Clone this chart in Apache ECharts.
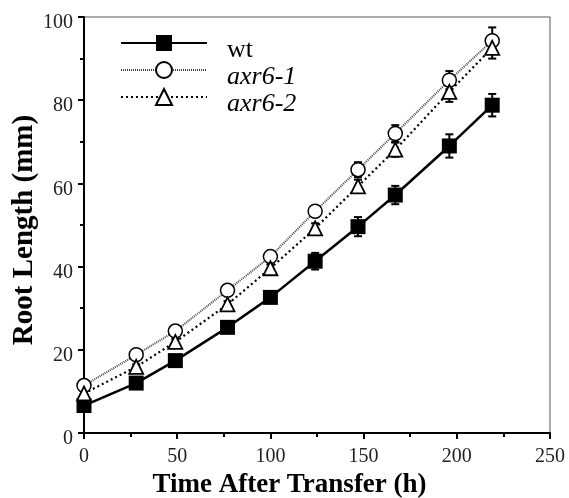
<!DOCTYPE html>
<html>
<head>
<meta charset="utf-8">
<script src="https://cdn.jsdelivr.net/npm/echarts@6/dist/echarts.min.js"></script>
<style>
  html, body { margin: 0; padding: 0; background: #fff; }
  #chart { width: 569px; height: 498px; }
</style>
</head>
<body>
<div id="chart"></div>
<script>
// time after transfer (h)
const times = [0, 28, 49, 77, 100, 124, 147, 167, 196, 219];

// root length (mm) and error (mm)
const wtVals = [6.6, 12.0, 17.4, 25.4, 32.6, 41.3, 49.6, 57.2, 69.0, 78.8];
const wtErr = [0.5, 0.6, 0.7, 0.8, 1.0, 2.0, 2.3, 2.2, 2.8, 2.7];
const axr1Vals = [11.4, 18.8, 24.5, 34.3, 42.4, 53.3, 63.3, 72.0, 84.8, 94.3];
const axr1Err = [0.5, 0.6, 0.7, 0.8, 0.9, 1.0, 1.8, 2.0, 2.2, 3.2];
const axr2Vals = [9.5, 15.9, 21.9, 30.9, 39.6, 49.2, 59.3, 68.1, 82.0, 92.6];
const axr2Err = [0.5, 0.6, 0.7, 0.8, 0.9, 1.2, 1.6, 1.7, 2.4, 2.6];

const SERIF = '"Liberation Serif", "Times New Roman", serif';

function pairs(vals) {
  return times.map((t, i) => [t, vals[i]]);
}
function errData(vals, err) {
  return times.map((t, i) => [t, vals[i] - err[i], vals[i] + err[i]]);
}

// vertical error bar with caps
function renderErr(params, api) {
  const x = api.value(0);
  const top = api.coord([x, api.value(2)]);
  const bot = api.coord([x, api.value(1)]);
  const w = 4;
  const st = { stroke: '#000', lineWidth: 2 };
  return {
    type: 'group',
    children: [
      { type: 'line', shape: { x1: top[0], y1: top[1], x2: bot[0], y2: bot[1] }, style: st },
      { type: 'line', shape: { x1: top[0] - w, y1: top[1], x2: top[0] + w, y2: top[1] }, style: st },
      { type: 'line', shape: { x1: bot[0] - w, y1: bot[1], x2: bot[0] + w, y2: bot[1] }, style: st }
    ]
  };
}

function errSeries(vals, err) {
  return {
    type: 'custom',
    renderItem: renderErr,
    data: errData(vals, err),
    encode: { x: 0, y: [1, 2] },
    z: 1,
    silent: true
  };
}

const chart = echarts.init(document.getElementById('chart'), null, { renderer: 'canvas' });

const option = {
  animation: false,
  backgroundColor: '#fff',
  grid: {
    left: 84,
    right: 19,
    top: 17,
    bottom: 65,
    outerBoundsMode: 'none',
    containLabel: false,
    show: true,
    borderColor: '#555',
    borderWidth: 1,
    backgroundColor: 'transparent'
  },
  legend: {
    left: 115,
    top: 18,
    orient: 'vertical',
    itemWidth: 86,
    itemHeight: 20,
    itemGap: -13,
    data: ['wt', 'axr6-1', 'axr6-2'],
    formatter: function (name) {
      return name === 'wt' ? '{n|' + name + '}' : '{i|' + name + '}';
    },
    textStyle: {
      fontFamily: SERIF,
      fontSize: 26,
      lineHeight: 26,
      color: '#000',
      padding: [14, 0, 0, 15],
      rich: {
        n: { fontFamily: SERIF, fontSize: 26, lineHeight: 26, color: '#000' },
        i: { fontFamily: SERIF, fontSize: 26, lineHeight: 26, color: '#000', fontStyle: 'italic' }
      }
    }
  },
  xAxis: {
    type: 'value',
    min: 0,
    max: 250,
    interval: 50,
    name: 'Time After Transfer (h)',
    nameLocation: 'middle',
    nameGap: 39,
    nameTextStyle: { fontFamily: SERIF, fontSize: 27, fontWeight: 'bold', color: '#000', padding: [0, 55, 0, 0] },
    axisLine: { show: true, onZero: false, lineStyle: { color: '#000', width: 2 } },
    axisTick: { show: true, inside: false, length: 6, lineStyle: { color: '#000', width: 2 } },
    minorTick: { show: true, splitNumber: 2, length: 4, lineStyle: { color: '#000', width: 2 } },
    axisLabel: { fontFamily: SERIF, fontSize: 20, color: '#222', margin: 14 },
    splitLine: { show: false }
  },
  yAxis: {
    type: 'value',
    min: 0,
    max: 100,
    interval: 20,
    name: 'Root Length (mm)',
    nameLocation: 'middle',
    nameGap: 45,
    nameMoveOverlap: false,
    nameTextStyle: { fontFamily: SERIF, fontSize: 29, fontWeight: 'bold', color: '#000', padding: [0, 10, 0, 0] },
    axisLine: { show: true, onZero: false, lineStyle: { color: '#000', width: 2 } },
    axisTick: { show: true, inside: false, length: 6, lineStyle: { color: '#000', width: 2 } },
    minorTick: { show: true, splitNumber: 2, length: 4, lineStyle: { color: '#000', width: 2 } },
    axisLabel: { fontFamily: SERIF, fontSize: 20, color: '#222', margin: 11, verticalAlign: 'top', lineHeight: 12 },
    splitLine: { show: false }
  },
  series: [
    errSeries(wtVals, wtErr),
    errSeries(axr1Vals, axr1Err),
    errSeries(axr2Vals, axr2Err),
    {
      name: 'wt',
      type: 'line',
      data: pairs(wtVals),
      symbol: 'rect',
      symbolSize: 15,
      z: 3,
      itemStyle: { color: '#000', borderColor: '#000', borderWidth: 0 },
      lineStyle: { color: '#000', width: 2.5 }
    },
    {
      name: 'axr6-1',
      type: 'line',
      data: pairs(axr1Vals),
      symbol: 'circle',
      symbolSize: 14,
      z: 3,
      itemStyle: { color: '#fff', borderColor: '#000', borderWidth: 1.5 },
      lineStyle: { color: '#444', width: 2, type: [1, 1] }
    },
    {
      name: 'axr6-2',
      type: 'line',
      data: pairs(axr2Vals),
      symbol: 'triangle',
      symbolSize: 14,
      z: 3,
      itemStyle: { color: '#fff', borderColor: '#000', borderWidth: 1.8 },
      lineStyle: { color: '#000', width: 2.2, type: [2, 3] }
    }
  ]
};

chart.setOption(option);
</script>
</body>
</html>
